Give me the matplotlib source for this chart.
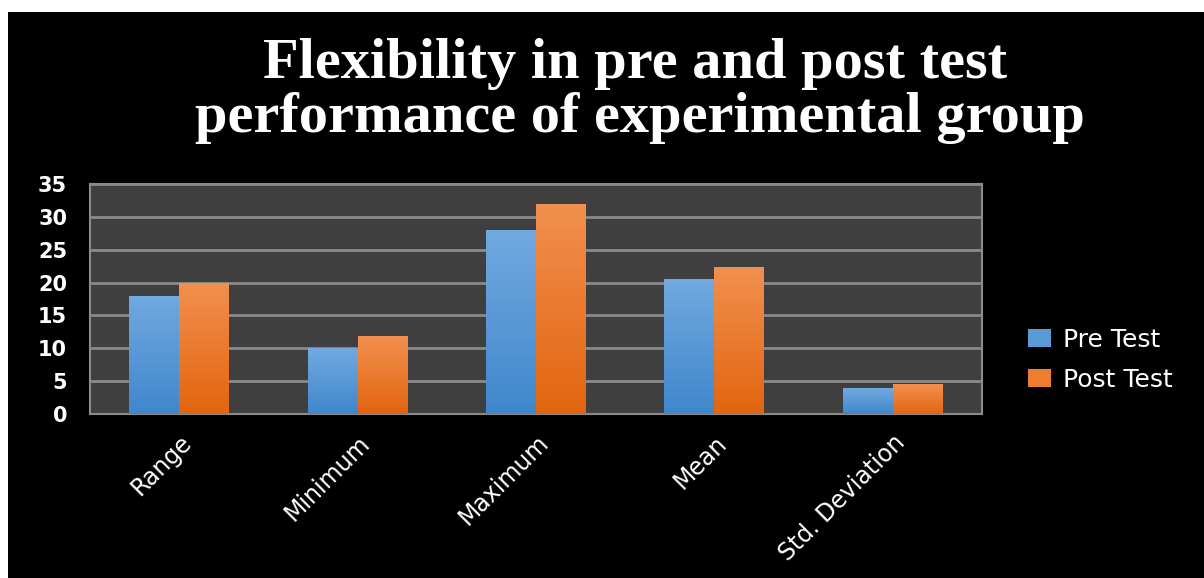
import matplotlib
matplotlib.use("Agg")
import matplotlib.pyplot as plt
import numpy as np
from matplotlib.patches import Rectangle
from matplotlib.colors import LinearSegmentedColormap

categories = ["Range", "Minimum", "Maximum", "Mean", "Std. Deviation"]
pre_test = [18, 10, 28, 20.6, 3.9]
post_test = [20, 11.8, 32, 22.3, 4.5]
series_names = ["Pre Test", "Post Test"]
yticks = [0, 5, 10, 15, 20, 25, 30, 35]
title_lines = ["Flexibility in pre and post test", "performance of experimental group"]

W, H = 1204, 578
fig = plt.figure(figsize=(W / 100, H / 100), dpi=100, facecolor="white")
fig.patches.append(Rectangle((8 / W, 0), 1 - 8 / W, (H - 12) / H,
                             transform=fig.transFigure, facecolor="black",
                             edgecolor="none", zorder=-5))

ax = fig.add_axes([90 / W, (H - 414) / H, (982 - 90) / W, (414 - 184) / H])
ax.set_facecolor("#3f3f3f")

x = np.arange(len(categories))
bw = 0.28
blue_cmap = LinearSegmentedColormap.from_list("b", ["#3f87cc", "#72a9e0"])
orange_cmap = LinearSegmentedColormap.from_list("o", ["#e2650f", "#f2904f"])
grad = np.linspace(0, 1, 256).reshape(-1, 1)

for vals, off, cmap, col, name in [(pre_test, -bw / 2, blue_cmap, "#5b9bd5", series_names[0]),
                                   (post_test, bw / 2, orange_cmap, "#ed7d31", series_names[1])]:
    bars = ax.bar(x + off, vals, width=bw, color=col, edgecolor="none", zorder=3, label=name)
    for b in bars:
        x0, y0, w, h = b.get_x(), b.get_y(), b.get_width(), b.get_height()
        im = ax.imshow(grad, cmap=cmap, origin="lower", aspect="auto",
                       extent=[x0, x0 + w, y0, y0 + h], zorder=4)
        im.set_clip_path(b)

ax.set_xlim(-0.5, len(categories) - 0.5)
ax.set_ylim(0, 35)
ax.set_yticks(yticks)
ax.yaxis.grid(True, color="#8a8a8a", linewidth=2, zorder=1)
ax.set_axisbelow(True)
for s in ax.spines.values():
    s.set_color("#8a8a8a")
    s.set_linewidth(1.5)
ax.tick_params(axis="both", length=0, colors="white")
ax.set_xticks(x)
ax.set_xticklabels(categories, rotation=45, ha="right", rotation_mode="anchor",
                   fontfamily="DejaVu Sans", fontsize=17, color="white")
ax.set_yticklabels([str(v) for v in yticks], fontfamily="DejaVu Sans",
                   fontweight="bold", fontsize=15, color="white")
ax.tick_params(axis="y", pad=16.5)
ax.tick_params(axis="x", pad=12)

fig.text(635 / W, 1 - 78 / H, title_lines[0], ha="center", va="baseline",
         fontfamily="Liberation Serif", fontweight="bold", fontsize=42, color="white")
fig.text(640 / W, 1 - 132 / H, title_lines[1], ha="center", va="baseline",
         fontfamily="Liberation Serif", fontweight="bold", fontsize=42, color="white")

leg = ax.legend(loc="center left", bbox_to_anchor=((1028 - 90) / 892, (414 - 360) / 230),
                frameon=False, borderaxespad=0, borderpad=0,
                prop={"family": "DejaVu Sans", "size": 18}, labelcolor="white",
                handlelength=0.9, handleheight=0.72, handletextpad=0.5, labelspacing=0.65)

fig.savefig("out.png", dpi=100, facecolor=fig.get_facecolor())
